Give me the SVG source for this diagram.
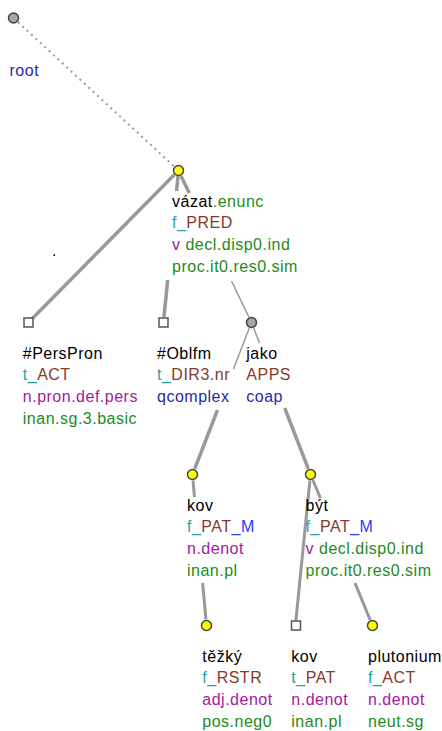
<svg xmlns="http://www.w3.org/2000/svg" width="442" height="731" viewBox="0 0 442 731">
<style>
text { font-family: "Liberation Sans", Arial, sans-serif; font-size: 16px; letter-spacing: 0.5px; fill: #000; }
.nv { fill: #2a2aa5; }
.gr { fill: #228b22; }
.tl { fill: #1fa3a3; }
.br { fill: #853a2c; }
.pu { fill: #a020a0; }
.bl { fill: #2b40f0; }
.yel { fill: #ffff00; stroke: #444; stroke-width: 1.5; }
.gry { fill: #a6a6a6; stroke: #444; stroke-width: 1.5; }
.sq { fill: #fff; stroke: #555; stroke-width: 1.5; }
.e { stroke: #999; fill: none; }
.thick { stroke-width: 3.5; }
.mid { stroke-width: 3; }
.thin { stroke-width: 1.5; }
.dot { stroke: #9a9a9a; stroke-width: 2; stroke-dasharray: 2 4; }
</style>
<rect x="0" y="0" width="442" height="731" fill="#fff"/>
<g id="connectors">
  <line class="e dot" x1="17.9" y1="22.1" x2="174.1" y2="166.4"/>
  <line class="e thick" x1="174.3" y1="174.8" x2="31.6" y2="319.3"/>
  <line class="e thick" x1="178" y1="176" x2="176.5" y2="191"/>
  <line class="e thick" x1="167.7" y1="280" x2="163.9" y2="317.5"/>
  <line class="e thick" x1="181" y1="176" x2="189.3" y2="193"/>
  <line class="e thin" x1="231.5" y1="281" x2="248.9" y2="317.1"/>
  <line class="e thin" x1="249.3" y1="328" x2="233.5" y2="369"/>
  <line class="e thick" x1="217.5" y1="410" x2="194.7" y2="468.9"/>
  <line class="e thin" x1="253.7" y1="328" x2="259.5" y2="343"/>
  <line class="e thick" x1="284.7" y1="408" x2="308.3" y2="468.9"/>
  <line class="e mid" x1="193" y1="480.5" x2="194.5" y2="497"/>
  <line class="e mid" x1="202.6" y1="583" x2="206" y2="619.5"/>
  <line class="e mid" x1="309.9" y1="480.5" x2="295.9" y2="620.5"/>
  <line class="e mid" x1="312.8" y1="480" x2="320.4" y2="498"/>
  <line class="e mid" x1="355" y1="583" x2="370.2" y2="620"/>
</g>
<rect x="53.5" y="254.3" width="1.6" height="1.6" fill="#000"/>
<g id="n-root">
  <circle class="gry" cx="13.5" cy="18" r="5"/>
  <text x="9.5" y="76" class="nv">root</text>
</g>
<g id="n-vazat">
  <circle class="yel" cx="178.5" cy="170.5" r="5"/>
  <text x="172" y="206.5">vázat<tspan class="gr">.enunc</tspan></text>
  <text x="172" y="228.2"><tspan class="tl">f_</tspan><tspan class="br">PRED</tspan></text>
  <text x="172" y="249.9"><tspan class="pu">v</tspan><tspan class="gr"> decl.disp0.ind</tspan></text>
  <text x="172" y="271.5" class="gr">proc.it0.res0.sim</text>
</g>
<g id="n-perspron">
  <rect class="sq" x="24" y="318" width="9" height="9"/>
  <text x="22.8" y="358.5">#PersPron</text>
  <text x="22.8" y="380.2"><tspan class="tl">t_</tspan><tspan class="br">ACT</tspan></text>
  <text x="22.8" y="401.9" class="pu">n.pron.def.pers</text>
  <text x="22.8" y="423.5" class="gr">inan.sg.3.basic</text>
</g>
<g id="n-oblfm">
  <rect class="sq" x="159" y="318" width="9" height="9"/>
  <text x="157" y="358.5">#Oblfm</text>
  <text x="157" y="380.2"><tspan class="tl">t_</tspan><tspan class="br">DIR3.nr</tspan></text>
  <text x="157" y="401.9" class="nv">qcomplex</text>
</g>
<g id="n-jako">
  <circle class="gry" cx="251.5" cy="322.5" r="5"/>
  <text x="246.3" y="358.5">jako</text>
  <text x="246.3" y="380.2" class="br">APPS</text>
  <text x="246.3" y="401.9" class="nv">coap</text>
</g>
<g id="n-kov1">
  <circle class="yel" cx="192.5" cy="474.5" r="5"/>
  <text x="187" y="510.5">kov</text>
  <text x="187" y="532.2"><tspan class="tl">f_</tspan><tspan class="br">PAT</tspan><tspan class="bl">_M</tspan></text>
  <text x="187" y="553.9" class="pu">n.denot</text>
  <text x="187" y="575.5" class="gr">inan.pl</text>
</g>
<g id="n-byt">
  <circle class="yel" cx="310.5" cy="474.5" r="5"/>
  <text x="305.6" y="510.5">být</text>
  <text x="305.6" y="532.2"><tspan class="tl">f_</tspan><tspan class="br">PAT</tspan><tspan class="bl">_M</tspan></text>
  <text x="305.6" y="553.9"><tspan class="pu">v</tspan><tspan class="gr"> decl.disp0.ind</tspan></text>
  <text x="305.6" y="575.5" class="gr">proc.it0.res0.sim</text>
</g>
<g id="n-tezky">
  <circle class="yel" cx="206.5" cy="625.5" r="5"/>
  <text x="202.3" y="661.5">těžký</text>
  <text x="202.3" y="683.2"><tspan class="tl">f_</tspan><tspan class="br">RSTR</tspan></text>
  <text x="202.3" y="704.9" class="pu">adj.denot</text>
  <text x="202.3" y="726.5" class="gr">pos.neg0</text>
</g>
<g id="n-kov2">
  <rect class="sq" x="291.5" y="621" width="9" height="9"/>
  <text x="291.3" y="661.5">kov</text>
  <text x="291.3" y="683.2"><tspan class="tl">t_</tspan><tspan class="br">PAT</tspan></text>
  <text x="291.3" y="704.9" class="pu">n.denot</text>
  <text x="291.3" y="726.5" class="gr">inan.pl</text>
</g>
<g id="n-plutonium">
  <circle class="yel" cx="372.5" cy="625.5" r="5"/>
  <text x="368" y="661.5">plutonium</text>
  <text x="368" y="683.2"><tspan class="tl">f_</tspan><tspan class="br">ACT</tspan></text>
  <text x="368" y="704.9" class="pu">n.denot</text>
  <text x="368" y="726.5" class="gr">neut.sg</text>
</g>
</svg>
